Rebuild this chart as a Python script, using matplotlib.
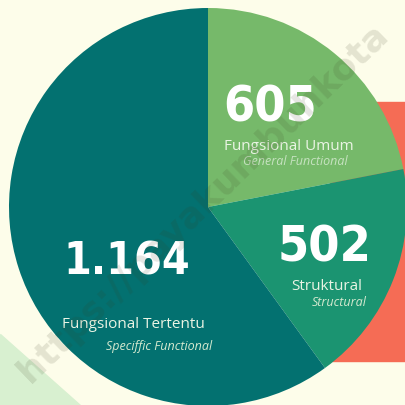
import matplotlib.pyplot as plt
from matplotlib.patches import Rectangle, Polygon

# values shown on the chart
numbers = ["605", "502", "1.164"]
labels = ["Fungsional Umum", "Struktural", "Fungsional Tertentu"]
sublabels = ["General Functional", "Structural", "Speciffic Functional"]
# wedge sweep as drawn in the infographic (degrees)
drawn_sweep = [79, 65, 216]
colors = ["#76b96a", "#1b9471", "#037170"]

bg = "#fdfdea"
fig = plt.figure(figsize=(4.06, 4.06), dpi=100, facecolor=bg)
ax = fig.add_axes([0, 0, 1, 1])
ax.set_facecolor(bg)

# decorative shapes behind the pie
ax.add_patch(Rectangle((330, 44), 90, 259, color="#f56c55", zorder=0))
ax.add_patch(Polygon([(0, 71), (0, 0), (80, 0)], color="#d8f0d0", zorder=0))

ax.pie(drawn_sweep, colors=colors, startangle=90, counterclock=False,
       center=(208, 198), radius=199, wedgeprops=dict(linewidth=0))
ax.set_xlim(0, 406)
ax.set_ylim(0, 406)
ax.set_aspect("equal")
ax.axis("off")

big = dict(family=["DejaVu Sans"], weight="bold", stretch="condensed",
           color="white", ha="center", va="center", zorder=5)
lab = dict(family=["Open Sans", "DejaVu Sans"], color="#eaf4e4",
           ha="center", va="center", zorder=5)
sub = dict(family=["Open Sans", "DejaVu Sans"], style="italic",
           color="#d4e9cf", ha="right", va="center", zorder=5)

# 605 block
ax.text(270, 298, numbers[0], fontsize=36, **big)
ax.text(289, 260, labels[0], fontsize=11, **lab)
ax.text(348, 244, sublabels[0], fontsize=9, alpha=0.85, **sub)

# 502 block
ax.text(325, 159, numbers[1], fontsize=36, **big)
ax.text(327, 119, labels[1], fontsize=11, **lab)
ax.text(367, 103, sublabels[1], fontsize=9, **sub)

# 1.164 block
ax.text(127, 144, numbers[2], fontsize=32, **big)
ax.text(133, 81, labels[2], fontsize=11, **lab)
ax.text(212, 59, sublabels[2], fontsize=9, **sub)

# faint watermark across the picture
ax.text(203, 203, "https://payakumbuhkota", fontsize=26, weight="bold",
        color="#3a3a20", alpha=0.13, rotation=44, rotation_mode="anchor",
        ha="center", va="center", zorder=6)

fig.savefig("out.png", dpi=100, facecolor=bg)
